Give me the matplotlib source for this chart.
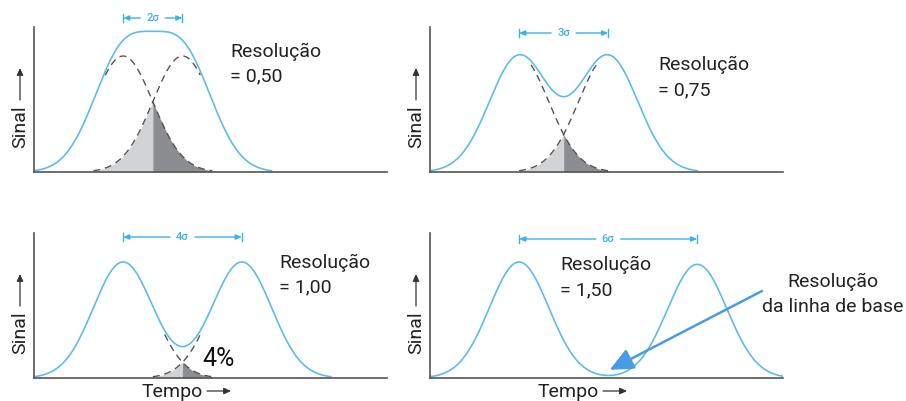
import numpy as np
import matplotlib
matplotlib.use("Agg")
import matplotlib.pyplot as plt
from matplotlib.patches import FancyArrowPatch

plt.rcParams['font.family'] = ['Roboto', 'DejaVu Sans']

# Peak-pair parameters (time in units of sigma, signal relative to peak height)
resolution = [0.50, 0.75, 1.00, 1.50]
resolution_labels = ["= 0,50", "= 0,75", "= 1,00", "= 1,50"]
sigma_labels = ["2σ", "3σ", "4σ", "6σ"]
first_peak_time = [3.0, 3.0, 3.0, 3.0]
left_height = [1.0, 1.0, 1.0, 1.0]
right_height = [1.0, 1.0, 1.0, 0.98]
sigma = 1.0
overlap_label = "4%"

W, H = 906, 401
fig = plt.figure(figsize=(W / 100, H / 100), dpi=100)

BLUE = "#5cbdec"
MARK = "#3cb2ea"
ARROW_BLUE = "#4a9be6"
AXIS = "#555555"
TEXT = "#222222"


def fx(px):
    return px / W


def fy(py):
    return 1 - py / H


def gauss(t, c, s, h):
    return h * np.exp(-0.5 * ((t - c) / s) ** 2)


def fig_arrow(p0, p1):
    fig.add_artist(FancyArrowPatch(
        (fx(p0[0]), fy(p0[1])), (fx(p1[0]), fy(p1[1])),
        transform=fig.transFigure,
        arrowstyle="-|>,head_length=2.6,head_width=1.2",
        color="#333333", lw=0.9, mutation_scale=1.6,
        shrinkA=0, shrinkB=0))


# axes boxes in pixels: left, right, top, bottom
boxes = [(34, 387, 27, 172), (430, 783, 27, 172),
         (34, 387, 233, 378), (430, 783, 233, 378)]
px_per_sigma = 29.7
px_per_unit = 116.0
marker_px = [18, 33, 237, 239]
text_pos = [(230, 57, 81), (658, 70, 95), (279, 268, 292), (560, 270, 295)]

axes = []
for i, (l, r, t, b) in enumerate(boxes):
    ax = fig.add_axes([fx(l), fy(b), (r - l) / W, (b - t) / H])
    ax.set_xlim(0, (r - l) / px_per_sigma)
    ax.set_ylim(0, (b - t) / px_per_unit)
    for s in ("top", "right"):
        ax.spines[s].set_visible(False)
    for s in ("left", "bottom"):
        ax.spines[s].set_color(AXIS)
        ax.spines[s].set_linewidth(1.2)
    ax.set_xticks([])
    ax.set_yticks([])
    ax.patch.set_alpha(0)
    axes.append(ax)

    rs = resolution[i]
    c1 = first_peak_time[i]
    sep = 4 * rs * sigma
    c2 = c1 + sep
    h1, h2 = left_height[i], right_height[i]

    t_env = np.linspace(c1 - 3 * sigma, c2 + 3 * sigma, 600)
    env = gauss(t_env, c1, sigma, h1) + gauss(t_env, c2, sigma, h2)
    ax.plot(t_env, env, color=BLUE, lw=1.2, zorder=2, solid_capstyle="round")

    # individual peaks shown where they separate from the envelope
    lo1, hi1 = c2 - 2.6 * sigma, c1 + 3 * sigma
    if hi1 > lo1:
        t1 = np.linspace(lo1, hi1, 300)
        ax.plot(t1, gauss(t1, c1, sigma, h1), color="#555555", lw=1.0,
                ls=(0, (5, 3.5)), zorder=3)
    lo2, hi2 = c2 - 3 * sigma, c1 + 2.6 * sigma
    if hi2 > lo2:
        t2 = np.linspace(lo2, hi2, 300)
        ax.plot(t2, gauss(t2, c2, sigma, h2), color="#555555", lw=1.0,
                ls=(0, (5, 3.5)), zorder=3)

    # overlap areas under the crossing
    if sep < 5:
        mid = (c1 + c2) / 2
        tl = np.linspace(c2 - 3 * sigma, mid, 200)
        ax.fill_between(tl, 0, gauss(tl, c2, sigma, h2), color="#d2d3d5",
                        lw=0, zorder=1)
        tr = np.linspace(mid, c1 + 3 * sigma, 200)
        ax.fill_between(tr, 0, gauss(tr, c1, sigma, h1), color="#8c8d90",
                        lw=0, zorder=1)

    # separation marker |<- nσ ->|
    my = (b - marker_px[i]) / px_per_unit
    tk = 4 / px_per_unit
    for xm in (c1, c2):
        ax.plot([xm, xm], [my - tk, my + tk], color=MARK, lw=1.0,
                clip_on=False)
    cx = (c1 + c2) / 2
    ax.text(cx, my, sigma_labels[i], color=MARK, fontsize=8, ha="center",
            va="center", clip_on=False, fontweight="medium")
    gap = 0.42
    for xa, xt in ((c1, cx - gap), (c2, cx + gap)):
        ax.annotate("", xy=(xa, my), xytext=(xt, my),
                    arrowprops=dict(arrowstyle="-|>,head_length=0.35,head_width=0.15",
                                    color=MARK, lw=1.0, shrinkA=0, shrinkB=0),
                    annotation_clip=False)

    # resolution label
    tx, y1, y2 = text_pos[i]
    fig.text(fx(tx), fy(y1), "Resolução", fontsize=14, color=TEXT,
             va="baseline", ha="left")
    fig.text(fx(tx), fy(y2), resolution_labels[i], fontsize=14, color=TEXT,
             va="baseline", ha="left")

    # y-axis label with arrow
    lx = l - 9
    fig.text(fx(lx), fy(b - 24), "Sinal", fontsize=14, color=TEXT,
             rotation=90, rotation_mode="anchor", ha="left", va="baseline")
    fig_arrow((lx - 5, b - 72), (lx - 5, b - 104))

# time axis labels (bottom row)
for l in (34, 430):
    fig.text(fx(l + 108), fy(397), "Tempo", fontsize=14, color=TEXT,
             va="baseline", ha="left")
    fig_arrow((l + 173, 391), (l + 197, 391))

# overlap percentage for resolution 1.00
fig.text(fx(202), fy(366), overlap_label, fontsize=18, color="#111111",
         va="baseline", ha="left")

# baseline-resolution callout
ax4 = axes[3]
c1 = first_peak_time[3]
c2 = c1 + 4 * resolution[3] * sigma
mid = (c1 + c2) / 2
fig.text(fx(833), fy(287), "Resolução", fontsize=14, color=TEXT,
         va="baseline", ha="center")
fig.text(fx(833), fy(312), "da linha de base", fontsize=14, color=TEXT,
         va="baseline", ha="center")
ax4.annotate("", xy=(mid + 0.05, 0.07),
             xytext=((762 - 430) / px_per_sigma, (378 - 291) / px_per_unit),
             arrowprops=dict(arrowstyle="-|>,head_length=1.2,head_width=0.55",
                             color=ARROW_BLUE, lw=1.8, shrinkA=0, shrinkB=0,
                             mutation_scale=12),
             annotation_clip=False)

fig.savefig("out.png", dpi=100)
